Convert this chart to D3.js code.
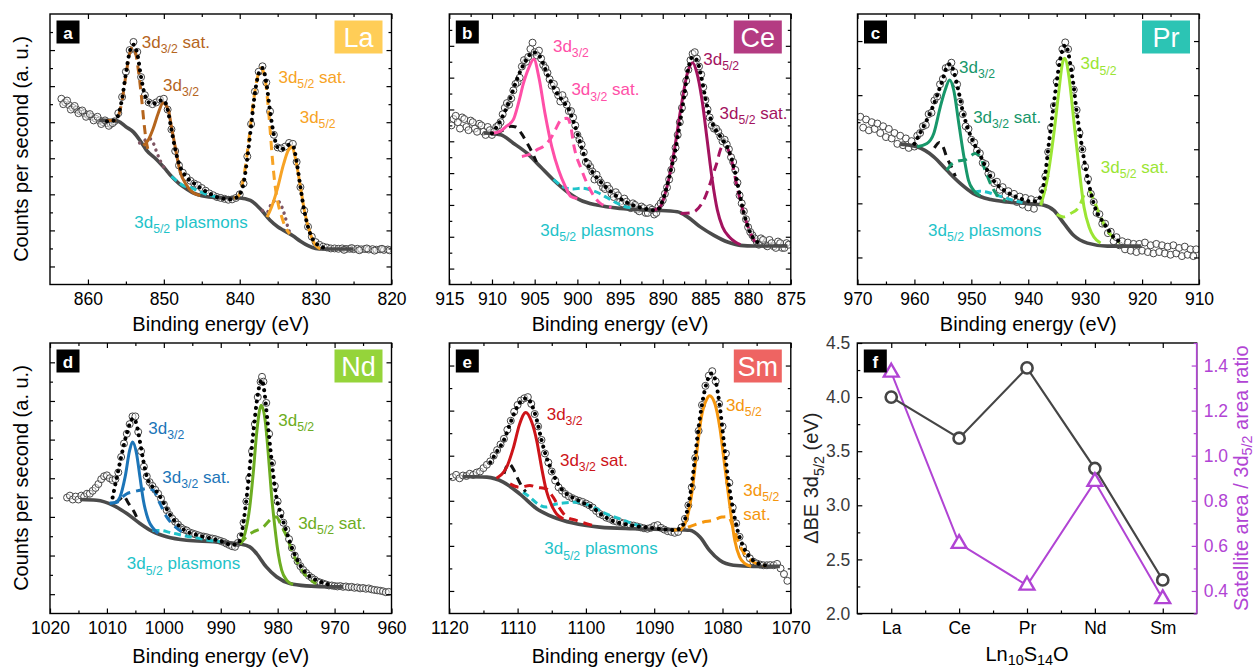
<!DOCTYPE html>
<html>
<head>
<meta charset="utf-8">
<script src="https://cdn.jsdelivr.net/npm/d3@7"></script>
<style>
  body { margin: 0; background: #fff; }
  svg { font-family: Arial, "Liberation Sans", Helvetica, sans-serif; }
</style>
</head>
<body>
<svg id="fig" width="1257" height="670"></svg>
<script>
// ---------- La (panel a) : [binding energy eV, counts a.u.] ----------
const laData = [[863.5,10.3],[863,10.1],[862.5,9.95],[862,9.8],[861.5,9.7],[861,9.6],[860.5,9.5],[860,9.4],[859.5,9.3],[859,9.2],[858.5,9.1],[858,9.0],[857.5,8.95],[857,8.9],[856.5,9.05],[856,9.5],[855.5,10.4],[855,11.8],[854.5,13.0],[854,13.45],[853.5,12.9],[853,11.5],[852.5,10.5],[852,10.1],[851.5,10.0],[851,10.1],[850.5,10.25],[850,10.3],[849.5,9.7],[849,8.6],[848.5,7.4],[848,6.6],[847.5,6.2],[847,5.95],[846.5,5.75],[846,5.6],[845.5,5.5],[845,5.35],[844.5,5.2],[844,5.05],[843.5,4.95],[843,4.85],[842.5,4.8],[842,4.75],[841.5,4.7],[841,4.72],[840.5,4.8],[840,5.0],[839.5,5.6],[839,7.1],[838.5,8.9],[838,10.7],[837.5,11.8],[837,12.1],[836.5,11.2],[836,9.6],[835.5,8.3],[835,7.6],[834.5,7.55],[834,7.65],[833.5,7.85],[833,7.8],[832.5,6.8],[832,5.4],[831.5,4.1],[831,3.2],[830.5,2.65],[830,2.35],[829.5,2.2],[829,2.1],[828.5,2.05],[828,2.0],[827.5,2.0],[827,1.98],[826.5,2.0],[826,1.97],[825.5,1.98],[825,1.96],[824.5,1.98],[824,1.95],[823.5,1.97],[823,1.94],[822.5,1.96],[822,1.93],[821.5,1.95],[821,1.92],[820.5,1.94]];
const laData2 = [[863.25,10.0],[862.75,10.2],[862.25,9.7],[861.75,9.9],[861.25,9.5],[860.75,9.65],[860.25,9.3],[859.75,9.45],[859.25,9.1],[858.75,9.3],[858.25,8.9],[857.75,9.1],[857.25,8.8],[856.75,8.95],[826.25,1.92],[825.25,2.02],[824.25,1.9],[823.25,2.0],[822.25,1.88],[821.25,1.98],[820.25,1.9]];
const laBg = [[858.5,9.1],[857,9.1],[856,9.05],[855,8.75],[854,8.45],[853,7.9],[852.3,7.45],[851,6.95],[850,6.5],[849,6.0],[848,5.6],[847,5.3],[846,5.05],[845,4.92],[843,4.82],[840,4.8],[838.6,4.67],[837.3,4.2],[836,3.56],[835,3.2],[834.2,3.0],[833,2.7],[832,2.4],[831,2.15],[830,2.0],[829,1.97],[825,1.97]];
const laEnv = [[857.5,9.05],[856.5,9.1],[856,9.4],[855.5,10.3],[855,11.7],[854.5,12.9],[854,13.3],[853.5,12.8],[853,11.5],[852.5,10.5],[852,10.1],[851.5,10.0],[851,10.1],[850.5,10.2],[850,10.2],[849.5,9.7],[849,8.6],[848.5,7.5],[848,6.7],[847,5.95],[846,5.6],[845,5.3],[844,5.05],[843,4.85],[842,4.75],[841,4.72],[840.5,4.8],[840,5.0],[839.5,5.6],[839,7.0],[838.5,8.8],[838,10.6],[837.5,11.7],[837,12.0],[836.5,11.2],[836,9.6],[835.5,8.3],[835,7.6],[834.5,7.5],[834,7.6],[833.5,7.75],[833,7.7],[832.5,6.8],[832,5.4],[831.5,4.1],[831,3.2],[830.5,2.6],[830,2.3],[829.5,2.15],[829,2.05]];
const laD32 = [[852.7,7.7],[852.07,8.0],[851.4,8.65],[850.75,9.48],[850.1,10.07],[849.4,9.67],[849.0,8.74],[848.5,7.63],[847.9,6.33],[847.0,5.5],[846.1,5.07],[845.2,4.94]];
const laD32Sat = [[857.5,9.1],[856.5,9.1],[856,9.35],[855.5,10.2],[855,11.6],[854.5,12.8],[854.1,13.2],[853.7,12.8],[853.3,11.7],[852.9,10.2],[852.6,8.9],[852.3,7.9],[852.0,7.35]];
const laD52 = [[836.4,3.74],[835.8,4.3],[835.1,5.22],[834.2,6.7],[833.6,7.44],[833.1,7.63],[832.7,7.07],[832.0,5.41],[831.4,3.93],[830.7,2.81],[830.0,2.17],[829.4,1.98]];
const laD52Sat = [[840.8,4.8],[840.3,4.85],[839.8,5.3],[839.3,6.4],[838.8,8.0],[838.3,9.8],[837.8,11.2],[837.2,12.0],[836.7,11.5],[836.3,10.1],[836.0,8.6],[835.7,7.0],[835.4,5.7],[835.0,4.6],[834.5,3.8],[834.0,3.2],[833.4,2.8]];
const laExtra32 = [[853.2,7.85],[852.5,8.0],[851.9,8.1],[851.4,7.85],[850.9,7.3],[850.4,6.8],[849.9,6.45]];
const laExtra52 = [[837,4.1],[836.4,4.0],[835.8,4.5],[835.1,4.67],[834.45,4.3],[834.0,3.74],[833.6,3.1],[833.2,2.75]];
const laPlas = [[849,6.0],[848.3,5.75],[847.5,5.5],[846.5,5.38],[845.5,5.2],[844.5,5.02],[843.5,4.9],[842.5,4.82]];
const laXTicks = [860, 850, 840, 830, 820];
const laXMinor = [855, 845, 835, 825];
const laYTicks = [1,2,3,4,5,6,7,8,9,10,11,12,13,14];

// ---------- Ce (panel b) ----------
const ceData = [[914.5,10.4],[914,10.2],[913.5,10.5],[913,9.9],[912.5,10.3],[912,9.8],[911.5,10.1],[911,9.6],[910.5,9.9],[910,9.4],[909.5,9.9],[909,10.2],[908.5,11.1],[908,11.3],[907.5,12.2],[907,12.7],[906.5,13.7],[906,14.0],[905.5,14.8],[905,14.6],[904.5,14.7],[904,13.8],[903.5,13.3],[903,12.5],[902.5,12.2],[902,11.5],[901.5,11.6],[901,10.9],[900.5,10.5],[900,9.4],[899.5,8.8],[899,7.7],[898.5,7.4],[898,6.6],[897.5,6.6],[897,6.1],[896.5,6.2],[896,5.7],[895.5,5.8],[895,5.2],[894.5,5.4],[894,4.9],[893.5,5.1],[893,4.7],[892.5,4.9],[892,4.5],[891.5,4.8],[891,4.4],[890.5,4.9],[890,5.3],[889.5,6.1],[889,7.2],[888.5,8.6],[888,10.2],[887.5,12.0],[887,13.5],[886.5,14.5],[886,14.2],[885.5,13.2],[885,11.6],[884.5,10.5],[884,9.8],[883.5,9.6],[883,9.0],[882.5,8.8],[882,8.0],[881.5,7.2],[881,5.6],[880.5,4.6],[880,3.6],[879.5,3.1],[879,2.7],[878.5,2.9],[878,2.5],[877.5,2.8],[877,2.4],[876.5,2.7],[876,2.3],[875.5,2.6]];
const ceData2 = [[914.75,10.0],[914.25,10.6],[913.75,9.8],[913.25,10.4],[912.75,9.7],[912.25,10.2],[911.75,9.6],[911.25,10.0],[910.75,9.4],[910.25,9.7],[909.75,9.6],[909.25,10.0],[908.75,10.7],[908.25,11.4],[907.75,11.7],[907.25,12.6],[906.75,13.0],[906.25,14.1],[905.75,14.3],[905.25,15.2],[904.75,14.4],[904.25,14.2],[903.75,13.6],[903.25,12.9],[902.75,12.6],[902.25,11.9],[901.75,11.9],[901.25,11.3],[900.75,10.9],[900.25,10.0],[899.75,9.1],[899.25,8.3],[898.75,7.6],[898.25,7.1],[897.75,6.9],[897.25,6.4],[896.75,6.0],[896.25,6.0],[895.75,5.5],[895.25,5.6],[894.75,5.1],[894.25,5.2],[893.75,4.8],[893.25,5.0],[892.75,4.6],[892.25,4.8],[891.75,4.5],[891.25,4.7],[890.75,4.5],[890.25,5.1],[889.75,5.7],[889.25,6.6],[888.75,7.9],[888.25,9.4],[887.75,11.1],[887.25,12.8],[886.75,14.1],[886.25,14.6],[885.75,13.7],[885.25,12.4],[884.75,11.0],[884.25,10.0],[883.75,9.8],[883.25,9.3],[882.75,9.1],[882.25,8.5],[881.75,7.7],[881.25,6.4],[880.75,5.1],[880.25,4.1],[879.75,3.3],[879.25,2.9],[878.75,2.5],[878.25,2.8],[877.75,2.4],[877.25,2.6],[876.75,2.3],[876.25,2.6],[875.75,2.3],[875.25,2.5]];
const ceBg = [[911,9.52],[909,9.41],[907.5,8.88],[905.9,8.25],[904.35,7.41],[902.8,6.57],[901.2,5.83],[899.65,5.3],[897.7,4.99],[895,4.78],[891,4.67],[888.3,4.57],[887.1,4.25],[885.6,3.62],[884,3.09],[882.4,2.67],[880.9,2.46],[879.3,2.42],[875.4,2.42]];
const ceEnv = [[910,9.5],[909,10.3],[908,11.5],[907,13.0],[906,14.1],[905.2,14.6],[904.5,14.4],[903.5,13.2],[902.5,12.1],[901.5,11.4],[901,11.0],[900.5,10.3],[900,9.5],[899.5,8.6],[899,7.8],[898,6.9],[897,6.3],[896,5.8],[895,5.4],[894,5.1],[893,4.9],[892,4.75],[891,4.67],[890.5,4.75],[890,5.3],[889.5,6.2],[889,7.3],[888.5,8.5],[888,10.1],[887.5,11.8],[887,13.6],[886.5,14.3],[886,14.1],[885.5,13.1],[885,11.7],[884.5,10.6],[884,9.9],[883.5,9.5],[883,9.1],[882.5,8.7],[882,8.0],[881.5,7.0],[881,5.7],[880.5,4.5],[880,3.6],[879.5,3.0],[879,2.7],[878.5,2.55]];
const ceD32 = [[910,9.5],[909.05,9.62],[908.3,9.95],[907.5,10.36],[906.9,11.4],[906.3,12.67],[905.7,13.6],[905.1,14.15],[904.5,13.0],[903.8,10.78],[903.0,8.67],[902.2,7.2],[901.4,6.15],[900.8,5.55],[900.0,5.4]];
const ceD32Sat = [[906.5,8.05],[905.5,8.2],[904.75,8.46],[903.8,8.75],[903.1,9.2],[902.6,9.7],[901.8,10.4],[901.2,10.45],[900.8,10.0],[900.4,8.7],[899.5,7.2],[898.5,5.95],[897.3,5.1],[896,4.85]];
const ceD52 = [[891.05,4.67],[890.3,4.88],[889.5,6.15],[888.7,8.25],[887.9,11.0],[887.1,13.3],[886.5,13.94],[886.0,13.3],[885.4,11.6],[884.8,9.1],[884.2,6.57],[883.6,4.67],[883.0,3.62],[882.2,2.99],[881.5,2.67],[880.9,2.5]];
const ceD52Sat = [[887.9,4.46],[886.7,4.5],[885.2,5.3],[883.8,7.41],[883.0,8.67],[882.5,8.6],[881.85,7.62],[881.3,6.15],[880.5,4.46],[879.7,3.2],[879.3,2.78],[878.7,2.5]];
const ceExtra = [[909.5,9.5],[908.5,9.75],[907.8,9.95],[907.2,9.9],[906.5,9.45],[905.9,8.9],[905.3,8.3],[904.8,7.7]];
const cePlas = [[902.8,6.6],[901.5,6.1],[900.5,6.0],[899.5,6.05],[898.5,5.95],[897.5,5.75],[896.5,5.45],[895.5,5.15],[894.5,4.9],[893.5,4.8]];
const ceXTicks = [915, 910, 905, 900, 895, 890, 885, 880, 875];
const ceXMinor = [912.5, 907.5, 902.5, 897.5, 892.5, 887.5, 882.5, 877.5];
const ceYTicks = [1,2,3,4,5,6,7,8,9,10,11,12,13,14,15,16];

// ---------- Pr (panel c) ----------
const prData = [[969.5,6.2],[969,5.8],[968.5,6.1],[968,5.7],[967.5,6.0],[967,5.75],[966.5,5.95],[966,5.6],[965.5,5.85],[965,5.45],[964.5,5.75],[964,5.4],[963.5,5.6],[963,5.2],[962.5,5.5],[962,5.15],[961.5,5.4],[961,5.05],[960.5,5.3],[960,5.1],[959.5,5.5],[959,5.6],[958.5,5.85],[958,5.9],[957.5,6.3],[957,6.35],[956.5,6.8],[956,6.95],[955.5,7.4],[955,7.6],[954.5,8.0],[954,8.05],[953.5,8.2],[953,7.85],[952.5,7.4],[952,6.75],[951.5,6.3],[951,5.85],[950.5,5.75],[950,5.35],[949.5,5.25],[949,4.95],[948.5,4.85],[948,4.5],[947.5,4.45],[947,4.1],[946.5,4.05],[946,3.75],[945.5,3.8],[945,3.5],[944.5,3.6],[944,3.3],[943.5,3.45],[943,3.2],[942.5,3.35],[942,3.05],[941.5,3.25],[941,2.95],[940.5,3.2],[940,2.85],[939.5,3.15],[939,2.8],[938.5,3.1],[938,3.05],[937.5,3.5],[937,4.0],[936.5,4.9],[936,5.8],[935.5,6.6],[935,7.5],[934.5,8.2],[934,8.7],[933.5,8.95],[933,8.7],[932.5,8.0],[932,7.2],[931.5,6.45],[931,5.6],[930.5,5.0],[930,4.35],[929.5,3.9],[929,3.35],[928.5,3.05],[928,2.65],[927.5,2.6],[927,2.25],[926.5,2.25],[926,1.9],[925.5,1.95],[925,1.6],[924.5,1.75],[924,1.45],[923.5,1.6],[923,1.3],[922.5,1.55],[922,1.25],[921.5,1.5],[921,1.2],[920.5,1.5],[920,1.25],[919.5,1.55],[919,1.2],[918.5,1.45],[918,1.15],[917.5,1.5],[917,1.2],[916.5,1.45],[916,1.15],[915.5,1.4],[915,1.1],[914.5,1.45],[914,1.15],[913.5,1.35],[913,1.05],[912.5,1.4],[912,1.1],[911.5,1.3],[911,1.05],[910.5,1.3]];
const prBg = [[962.5,5.19],[959.55,5.09],[956.6,4.72],[954.3,4.22],[951.9,3.73],[949.6,3.36],[946.6,3.14],[943.7,3.05],[940.2,2.99],[937.25,2.93],[935.5,2.74],[933.7,2.25],[932,1.81],[929.6,1.53],[926.1,1.42],[920.2,1.42]];
const prEnv = [[960,5.2],[959,5.6],[958,6.0],[957,6.45],[956,7.0],[955,7.6],[954.3,8.05],[953.7,8.15],[953,7.8],[952.3,7.2],[951.5,6.4],[950.5,5.7],[949.5,5.2],[948.5,4.8],[947.5,4.35],[946.5,3.95],[945.5,3.7],[944,3.45],[942.5,3.28],[941,3.15],[939.5,3.07],[938.5,3.08],[937.5,3.5],[937,4.1],[936.5,5.0],[936,5.85],[935.5,6.7],[935,7.5],[934.5,8.2],[934,8.65],[933.5,8.85],[933,8.6],[932.5,8.0],[932,7.3],[931.5,6.4],[931,5.7],[930.5,5.0],[930,4.4],[929.5,3.85],[929,3.4],[928.5,3.0],[928,2.7],[927,2.35],[926,2.05],[925,1.75],[924,1.6]];
const prD32 = [[959.55,5.09],[957.8,5.21],[956.6,5.58],[955.45,6.57],[954.6,7.19],[953.8,7.56],[953.1,7.19],[952.2,5.95],[951.3,4.72],[950.5,3.85],[949.6,3.48],[948.4,3.28]];
const prD32Sat = [[954.3,4.22],[953.7,4.4],[952.5,4.55],[951,4.62],[949.3,4.84],[948.5,4.75],[947.8,4.35],[946.35,3.6],[945.2,3.23],[944,3.1]];
const prD52 = [[937.8,2.93],[936.7,3.85],[935.5,5.58],[934.6,7.19],[934.0,8.17],[933.6,8.36],[932.85,7.68],[932.0,6.07],[931.1,4.35],[930.2,2.86],[929.3,2.12],[928.45,1.75],[927.3,1.53]];
const prD52Sat = [[935,2.6],[933.8,2.5],[932.6,2.62],[931.1,2.86],[930.2,3.3],[929.3,3.45],[928.45,3.1],[927.3,2.5],[926.1,2.0],[924.9,1.7],[924,1.55]];
const prExtra = [[956.5,5.05],[955.6,5.25],[955.0,5.1],[954.3,4.7],[953.4,4.3],[952.8,4.0]];
const prPlas = [[949.5,3.4],[948.5,3.45],[947,3.4],[945.5,3.3],[944,3.2],[942.5,3.1],[941,3.03]];
const prXTicks = [970, 960, 950, 940, 930, 920, 910];
const prXMinor = [965, 955, 945, 935, 925, 915];
const prYTicks = [1,2,3,4,5,6,7,8,9];

// ---------- Nd (panel d) ----------
const ndData = [[1017,6.0],[1016.5,6.1],[1016,5.9],[1015.5,6.05],[1015,5.9],[1014.5,6.1],[1014,6.05],[1013.5,6.2],[1013,6.2],[1012.5,6.35],[1012,6.5],[1011.5,6.7],[1011,6.95],[1010.5,7.1],[1010,7.15],[1009.5,7.0],[1009,6.9],[1008.5,6.95],[1008,7.3],[1007.5,8.1],[1007,8.8],[1006.5,9.3],[1006,9.8],[1005.5,10.2],[1005,10.2],[1004.5,9.4],[1004,8.4],[1003.5,7.6],[1003,7.1],[1002.5,6.8],[1002,6.6],[1001.5,6.4],[1001,6.2],[1000.5,5.95],[1000,5.65],[999.5,5.35],[999,5.1],[998.5,4.9],[998,4.75],[997.5,4.6],[997,4.45],[996.5,4.35],[996,4.3],[995.5,4.2],[995,4.15],[994.5,4.1],[994,4.05],[993.5,4.0],[993,3.98],[992.5,3.95],[992,3.9],[991.5,3.88],[991,3.85],[990.5,3.8],[990,3.75],[989.5,3.7],[989,3.62],[988.5,3.55],[988,3.48],[987.5,3.45],[987,3.65],[986.5,4.0],[986,4.7],[985.5,5.8],[985,7.0],[984.5,8.4],[984,9.8],[983.5,11.2],[983,12.0],[982.75,12.25],[982.5,12.0],[982,10.9],[981.5,9.3],[981,7.8],[980.5,6.6],[980,5.8],[979.5,5.2],[979,4.7],[978.5,4.35],[978,3.85],[977.5,3.4],[977,3.0],[976.5,2.7],[976,2.45],[975.5,2.25],[975,2.1],[974.5,1.95],[974,1.85],[973.5,1.75],[973,1.65],[972.5,1.6],[972,1.55],[971.5,1.5],[971,1.45],[970.5,1.45],[970,1.42],[969.5,1.4],[969,1.42],[968.5,1.38],[968,1.4],[967.5,1.36],[967,1.38],[966.5,1.33],[966,1.35],[965.5,1.3],[965,1.32],[964.5,1.28],[964,1.3],[963.5,1.25],[963,1.22],[962.5,1.2],[962,1.18],[961.5,1.15],[961,1.1],[960.5,1.12]];
const ndBg = [[1014.7,5.9],[1011.8,5.86],[1008.9,5.6],[1006.5,5.17],[1004.2,4.66],[1001.85,4.22],[999.5,3.97],[996,3.79],[991.3,3.71],[986.6,3.59],[984.9,3.45],[983.7,3.1],[982,2.41],[980.2,1.9],[977.85,1.55],[974.9,1.43],[970.2,1.38],[968.5,1.38]];
const ndEnv = [[1009,6.0],[1008.3,7.0],[1007.5,8.1],[1006.8,9.0],[1006,9.8],[1005.4,10.1],[1004.8,9.8],[1004.2,8.9],[1003.6,7.9],[1003,7.1],[1002.4,6.7],[1001.8,6.5],[1001,6.2],[1000,5.7],[999,5.15],[998,4.75],[997,4.45],[996,4.25],[994,4.05],[992,3.9],[990,3.75],[988,3.55],[987,3.6],[986.3,4.2],[985.7,5.4],[985.2,6.7],[984.7,8.2],[984.2,9.6],[983.7,10.9],[983.2,11.8],[982.8,12.1],[982.3,11.4],[981.8,10.0],[981.2,8.3],[980.7,7.0],[980.2,6.0],[979.6,5.3],[979,4.75],[978.3,4.1],[977.5,3.4],[976.5,2.75],[975.5,2.25],[974.5,1.95],[973,1.7],[971,1.5]];
const ndD32 = [[1009.5,5.7],[1008.5,5.75],[1007.7,6.03],[1006.8,7.07],[1006.0,8.45],[1005.5,8.88],[1004.8,8.28],[1004.2,7.07],[1003.6,5.86],[1002.7,4.83],[1001.85,4.4],[1001.0,4.15]];
const ndD32Sat = [[1009.5,5.7],[1008.3,5.75],[1007.4,6.0],[1006.5,6.2],[1005.4,6.3],[1004.2,6.38],[1003,6.47],[1001.85,6.38],[1000.7,5.7],[999.5,5.0],[998.3,4.57],[997.2,4.3],[996,4.0]];
const ndD52 = [[986.6,3.62],[985.75,4.14],[984.9,5.52],[984.3,7.24],[983.7,9.31],[983.2,10.5],[982.9,10.78],[982.2,10.0],[981.65,8.28],[981.1,6.21],[980.5,4.48],[979.9,3.1],[979.3,2.24],[978.4,1.72],[977.3,1.5]];
const ndD52Sat = [[986.6,3.59],[985.5,3.97],[984.3,4.22],[982.5,4.48],[981.4,4.83],[980.8,5.0],[980.2,5.0],[979.6,4.7],[978.4,3.97],[977.3,3.1],[976.1,2.41],[974.9,1.9],[973.2,1.55]];
const ndExtra = [[1008.5,5.75],[1007.6,5.95],[1007.1,6.1],[1006.4,5.8],[1005.9,5.55],[1005.3,5.3],[1004.8,5.0]];
const ndPlas = [[1002,4.3],[1000.5,4.3],[999,4.2],[997.5,4.1],[996,4.0],[994,3.9],[992,3.78],[990,3.72]];
const ndXTicks = [1020, 1010, 1000, 990, 980, 970, 960];
const ndXMinor = [1015, 1005, 995, 985, 975, 965];
const ndYTicks = [1,2,3,4,5,6,7,8,9,10,11,12,13];

// ---------- Sm (panel e) ----------
const smData = [[1119.5,6.05],[1119,6.15],[1118.5,6.0],[1118,6.12],[1117.5,6.1],[1117,6.2],[1116.5,6.15],[1116,6.25],[1115.5,6.3],[1115,6.45],[1114.5,6.6],[1114,6.75],[1113.5,7.0],[1113,7.25],[1112.5,7.5],[1112,7.75],[1111.5,8.15],[1111,8.55],[1110.5,8.95],[1110,9.25],[1109.5,9.45],[1109,9.55],[1108.5,9.6],[1108,9.3],[1107.5,8.85],[1107,8.3],[1106.5,7.7],[1106,7.1],[1105.5,6.7],[1105,6.3],[1104.5,5.9],[1104,5.6],[1103.5,5.45],[1103,5.3],[1102.5,5.2],[1102,5.12],[1101.5,5.05],[1101,5.0],[1100.5,4.95],[1100,4.88],[1099.5,4.8],[1099,4.7],[1098.5,4.55],[1098,4.42],[1097.5,4.35],[1097,4.25],[1096.5,4.2],[1096,4.12],[1095.5,4.08],[1095,4.05],[1094.5,4.0],[1094,3.95],[1093.5,3.92],[1093,3.9],[1092.5,3.86],[1092,3.82],[1091.5,3.78],[1091,3.76],[1090.5,3.8],[1090,3.88],[1089.5,3.92],[1089,3.8],[1088.5,3.72],[1088,3.65],[1087.5,3.62],[1087,3.58],[1086.5,3.62],[1086,3.82],[1085.5,4.2],[1085,4.8],[1084.5,5.6],[1084,6.9],[1083.5,8.1],[1083,9.25],[1082.5,10.1],[1082,10.55],[1081.5,10.75],[1081,10.3],[1080.5,9.3],[1080,8.3],[1079.5,7.1],[1079,5.8],[1078.5,4.7],[1078,4.0],[1077.5,3.4],[1077,2.95],[1076.5,2.65],[1076,2.45],[1075.5,2.3],[1075,2.22],[1074.5,2.17],[1074,2.14],[1073.5,2.14],[1073,2.15],[1072.5,2.14],[1072,2.2],[1071.5,2.0],[1071,1.75],[1070.5,1.45]];
const smBg = [[1118,6.08],[1114.5,6.05],[1112.1,5.83],[1109.7,5.31],[1107.2,4.65],[1104.8,4.28],[1101.9,4.01],[1098,3.83],[1093.1,3.76],[1087.2,3.72],[1084.8,3.69],[1083.3,3.39],[1081.9,2.8],[1080.4,2.36],[1078.4,2.14],[1075.5,2.09],[1071.6,2.09]];
const smEnv = [[1114,6.7],[1113,7.2],[1112,7.7],[1111,8.5],[1110,9.2],[1109.2,9.5],[1108.6,9.55],[1108,9.3],[1107.2,8.6],[1106.5,7.7],[1105.8,6.95],[1105,6.35],[1104,5.7],[1103,5.35],[1102,5.15],[1101,5.0],[1100,4.85],[1099,4.7],[1098,4.45],[1097,4.25],[1096,4.1],[1094,3.95],[1092,3.85],[1090,3.78],[1088,3.72],[1087,3.7],[1086,3.82],[1085.3,4.4],[1084.6,5.5],[1084,7.0],[1083.3,8.7],[1082.6,9.9],[1082,10.5],[1081.6,10.65],[1081,10.3],[1080.4,9.2],[1079.8,7.6],[1079.2,6.0],[1078.5,4.7],[1077.8,3.7],[1077,3.0],[1076,2.5],[1075,2.25],[1074,2.15],[1073,2.12]];
const smD32 = [[1113.1,6.0],[1111.6,6.49],[1110.6,7.37],[1109.7,8.41],[1108.8,8.92],[1108.0,8.55],[1107.2,7.67],[1106.5,6.49],[1105.8,5.46],[1105.0,4.79],[1104.3,4.42],[1103.3,4.2]];
const smD32Sat = [[1111.1,5.75],[1109.7,5.6],[1108.2,5.68],[1107.2,5.6],[1105.8,5.53],[1104.8,5.16],[1103.8,4.65],[1102.8,4.28],[1101.4,4.13],[1099.9,3.98],[1098.5,3.88]];
const smD52 = [[1086.2,3.69],[1085.3,4.13],[1084.5,5.31],[1083.8,7.08],[1083.1,8.7],[1082.3,9.51],[1081.9,9.66],[1081.1,9.29],[1080.4,8.26],[1079.65,6.49],[1078.9,4.72],[1078.2,3.24],[1077.5,2.51],[1076.7,2.21],[1075.8,2.09]];
const smD52Sat = [[1087.2,3.69],[1085.8,3.76],[1084.3,3.91],[1082.8,4.06],[1081.4,4.13],[1080.1,4.28],[1079.2,4.3],[1078.2,3.6],[1077.2,2.85],[1076.2,2.45],[1075,2.21],[1073.6,2.12]];
const smExtra = [[1112,6.2],[1111.3,6.65],[1110.6,6.4],[1110,6.0],[1109.5,5.7],[1108.8,5.4]];
const smPlas = [[1109.2,5.38],[1108.2,5.16],[1107,4.85],[1105.8,4.72],[1104.5,4.85],[1103.3,4.9],[1101.4,4.94],[1098.9,4.72],[1097,4.42],[1095,4.2],[1093.1,3.98],[1091.6,3.83]];
const smXTicks = [1120, 1110, 1100, 1090, 1080, 1070];
const smXMinor = [1115, 1105, 1095, 1085, 1075];
const smYTicks = [1,2,3,4,5,6,7,8,9,10,11];

// ---------- panel f ----------
const elements = ['La', 'Ce', 'Pr', 'Nd', 'Sm'];
const deltaBE = [4.0, 3.62, 4.27, 3.34, 2.31];
const satRatio = [1.37, 0.61, 0.425, 0.885, 0.365];
const beTicks = [2.0, 2.5, 3.0, 3.5, 4.0, 4.5];
const beMinor = [2.25, 2.75, 3.25, 3.75, 4.25];
const ratioTicks = [0.4, 0.6, 0.8, 1.0, 1.2, 1.4];
const ratioMinor = [0.3, 0.5, 0.7, 0.9, 1.1, 1.3, 1.5];

const CYAN = '#1FC3C9';
const svg = d3.select('#fig');

// text with _{sub} subscripts
function rich(sel, str, fs, shift) {
  const sh = shift === undefined ? 0.3 : shift;
  const parts = str.split(/_\{([^}]*)\}/);
  let down = false;
  parts.forEach((p, i) => {
    if (p === '') return;
    const t = sel.append('tspan').text(p);
    if (i % 2 === 1) { t.attr('font-size', fs * 0.72).attr('dy', fs * sh); down = true; }
    else if (down) { t.attr('dy', -fs * sh); down = false; }
  });
}

function axisPart(g, fn, scale, values, size, pad, fmt, tr) {
  const ax = fn(scale).tickValues(values).tickSize(-size).tickSizeOuter(0).tickPadding(pad)
    .tickFormat(fmt || (() => ''));
  const s = g.append('g').attr('transform', tr).call(ax);
  s.select('.domain').remove();
  s.attr('font-family', null).attr('font-size', 17.5);
  s.selectAll('line').attr('stroke', '#000').attr('stroke-width', 1.2);
  return s;
}

function panelTag(g, x0, y0, letter) {
  g.append('rect').attr('x', x0 + 6.5).attr('y', y0 + 6.5).attr('width', 23).attr('height', 23).attr('fill', '#000');
  g.append('text').attr('x', x0 + 18).attr('y', y0 + 24.5).attr('text-anchor', 'middle')
    .attr('font-size', 17).attr('font-weight', 'bold').attr('fill', '#fff').text(letter);
}

const panels = [
  { id: 'a', el: 'La', box: '#FFCD57', x0: 50, y0: 14, xd: [865, 820], yMax: 15,
    xt: laXTicks, xm: laXMinor, yt: laYTicks, data: laData.concat(laData2), bg: laBg, env: laEnv,
    c32: '#B5651D', c52: '#F7A325',
    comps: [[laPlas, 'plas'], [laExtra32, 'dot'], [laExtra52, 'dot'], [laD32Sat, 'dash', 'c32'], [laD32, 'solid', 'c32'],
            [laD52Sat, 'dash', 'c52'], [laD52, 'solid', 'c52']],
    labels: [['3d_{3/2} sat.', 852.9, 13.1, 'c32'], ['3d_{3/2}', 850.1, 10.72, 'c32'],
             ['3d_{5/2} sat.', 834.9, 11.17, 'c52'], ['3d_{5/2}', 832.1, 8.94, 'c52'],
             ['3d_{5/2} plasmons', 853.9, 3.13, 'cyan']] },
  { id: 'b', el: 'Ce', box: '#B43B82', x0: 449.3, y0: 14, xd: [915, 875], yMax: 17,
    xt: ceXTicks, xm: ceXMinor, yt: ceYTicks, data: ceData.concat(ceData2), bg: ceBg, env: ceEnv,
    c32: '#FF4FA7', c52: '#A3135F',
    comps: [[cePlas, 'plas'], [ceExtra, 'blk'], [ceD32Sat, 'dash', 'c32'], [ceD32, 'solid', 'c32'],
            [ceD52Sat, 'dash', 'c52'], [ceD52, 'solid', 'c52']],
    labels: [['3d_{3/2}', 902.86, 14.61, 'c32'], ['3d_{3/2} sat.', 900.7, 11.88, 'c32'],
             ['3d_{5/2}', 885.26, 13.81, 'c52'], ['3d_{5/2} sat.', 883.35, 10.4, 'c52'],
             ['3d_{5/2} plasmons', 904.35, 3.03, 'cyan']] },
  { id: 'c', el: 'Pr', box: '#2CC4B4', x0: 857.5, y0: 14, xd: [970, 910], yMax: 10,
    xt: prXTicks, xm: prXMinor, yt: prYTicks, data: prData, bg: prBg, env: prEnv,
    c32: '#17976A', c52: '#9BE534',
    comps: [[prPlas, 'plas'], [prExtra, 'blk'], [prD32Sat, 'dash', 'c32'], [prD32, 'solid', 'c32'],
            [prD52Sat, 'dash', 'c52'], [prD52, 'solid', 'c52']],
    labels: [['3d_{3/2}', 952.15, 7.83, 'c32'], ['3d_{3/2} sat.', 949.68, 5.97, 'c32'],
             ['3d_{5/2}', 930.8, 7.95, 'c52'], ['3d_{5/2} sat.', 927.27, 4.12, 'c52'],
             ['3d_{5/2} plasmons', 957.6, 1.81, 'cyan']] },
  { id: 'd', el: 'Nd', box: '#95D43A', x0: 50, y0: 343, xd: [1020, 960], yMax: 14,
    xt: ndXTicks, xm: ndXMinor, yt: ndYTicks, data: ndData, bg: ndBg, env: ndEnv,
    c32: '#1C75B8', c52: '#6DAD22',
    comps: [[ndPlas, 'plas'], [ndExtra, 'blk'], [ndD32Sat, 'dash', 'c32'], [ndD32, 'solid', 'c32'],
            [ndD52Sat, 'dash', 'c52'], [ndD52, 'solid', 'c52']],
    labels: [['3d_{3/2}', 1002.73, 9.27, 'c32'], ['3d_{3/2} sat.', 1000.27, 6.77, 'c32'],
             ['3d_{5/2}', 979.9, 9.7, 'c52'], ['3d_{5/2} sat.', 976.4, 4.38, 'c52'],
             ['3d_{5/2} plasmons', 1006.5, 2.28, 'cyan']] },
  { id: 'e', el: 'Sm', box: '#EE6462', x0: 449.3, y0: 343, xd: [1120, 1070], yMax: 12,
    xt: smXTicks, xm: smXMinor, yt: smYTicks, data: smData, bg: smBg, env: smEnv,
    c32: '#CD1419', c52: '#F5960D',
    comps: [[smPlas, 'plas'], [smExtra, 'blk'], [smD32Sat, 'dash', 'c32'], [smD32, 'solid', 'c32'],
            [smD52Sat, 'dash', 'c52'], [smD52, 'solid', 'c52']],
    labels: [['3d_{3/2}', 1105.74, 8.6, 'c32'], ['3d_{3/2} sat.', 1103.8, 6.53, 'c32'],
             ['3d_{5/2}', 1079.5, 8.97, 'c52'], ['3d_{5/2}', 1076.95, 5.2, 'c52'], ['sat.', 1076.95, 4.17, 'c52'],
             ['3d_{5/2} plasmons', 1106.1, 2.62, 'cyan']] }
];

const W = 341.5, H = 270.5;

panels.forEach(p => {
  const g = svg.append('g');
  const x = d3.scaleLinear().domain(p.xd).range([p.x0, p.x0 + W]);
  const y = d3.scaleLinear().domain([0, p.yMax]).range([p.y0 + H, p.y0]);

  svg.append('clipPath').attr('id', 'clip-' + p.id)
    .append('rect').attr('x', p.x0).attr('y', p.y0).attr('width', W).attr('height', H);
  const plot = g.append('g').attr('clip-path', `url(#clip-${p.id})`);

  plot.selectAll('circle').data(p.data).join('circle')
    .attr('cx', d => x(d[0])).attr('cy', d => y(d[1])).attr('r', 3.5)
    .attr('fill', '#fff').attr('fill-opacity', 0.5)
    .attr('stroke', '#474747').attr('stroke-width', 1);

  const line = d3.line().x(d => x(d[0])).y(d => y(d[1])).curve(d3.curveMonotoneX);
  const draw = (pts, color, width, dash, cap) => plot.append('path')
    .datum(pts.slice().sort((a, b) => b[0] - a[0]))
    .attr('d', line).attr('fill', 'none').attr('stroke', color).attr('stroke-width', width)
    .attr('stroke-dasharray', dash || null).attr('stroke-linecap', cap || 'butt')
    .attr('stroke-linejoin', 'round');

  draw(p.bg, '#4b4b4b', 3.6);
  p.comps.forEach(([pts, style, key]) => {
    if (style === 'plas') draw(pts, CYAN, 3, '7 4');
    else if (style === 'dot') draw(pts, '#7E5563', 3.4, '0.1 6', 'round');
    else if (style === 'blk') draw(pts, '#111', 3, '8 6');
    else if (style === 'dash') draw(pts, p[key], 3, '9 6');
    else draw(pts, p[key], 3);
  });
  draw(p.env, '#000', 4, '0.1 6.6', 'round');

  // frame + inward ticks
  g.append('rect').attr('x', p.x0).attr('y', p.y0).attr('width', W).attr('height', H)
    .attr('fill', 'none').attr('stroke', '#000').attr('stroke-width', 1.4);
  const bottomPad = p.y0 > 100 ? 8.2 : 7.6;
  axisPart(g, d3.axisBottom, x, p.xt, 5, bottomPad, d => d, `translate(0,${p.y0 + H})`);
  axisPart(g, d3.axisBottom, x, p.xm, 3, 3, null, `translate(0,${p.y0 + H})`);
  axisPart(g, d3.axisTop, x, p.xt, 5, 3, null, `translate(0,${p.y0})`);
  axisPart(g, d3.axisTop, x, p.xm, 3, 3, null, `translate(0,${p.y0})`);
  const yMaj = p.yt.filter(v => v % 2 === 1), yMin = p.yt.filter(v => v % 2 === 0);
  axisPart(g, d3.axisLeft, y, yMaj, 5, 3, null, `translate(${p.x0},0)`);
  axisPart(g, d3.axisLeft, y, yMin, 3, 3, null, `translate(${p.x0},0)`);
  axisPart(g, d3.axisRight, y, yMaj, 5, 3, null, `translate(${p.x0 + W},0)`);
  axisPart(g, d3.axisRight, y, yMin, 3, 3, null, `translate(${p.x0 + W},0)`);

  // peak labels
  p.labels.forEach(([txt, be, v, key]) => {
    const t = g.append('text').attr('x', x(be)).attr('y', y(v)).attr('font-size', 17)
      .attr('fill', key === 'cyan' ? CYAN : p[key]);
    rich(t, txt, 17);
  });

  panelTag(g, p.x0, p.y0, p.id);
  g.append('rect').attr('x', p.x0 + W - 57).attr('y', p.y0 + 6.5).attr('width', 48).attr('height', 33)
    .attr('fill', p.box);
  g.append('text').attr('x', p.x0 + W - 33).attr('y', p.y0 + 32.5).attr('text-anchor', 'middle')
    .attr('font-size', 27).attr('fill', '#fff').text(p.el);

  g.append('text').attr('x', p.x0 + W / 2).attr('y', p.y0 > 100 ? 663 : 331)
    .attr('text-anchor', 'middle').attr('font-size', 20).text('Binding energy (eV)');
});

// y titles of the spectra
[149, 478].forEach(cy => {
  svg.append('text').attr('transform', `translate(28,${cy}) rotate(-90)`)
    .attr('text-anchor', 'middle').attr('font-size', 20).text('Counts per second (a. u.)');
});

// ---------- panel f ----------
{
  const x0 = 857.3, y0 = 343, w = 339.4, h = 270.5;
  const PURPLE = '#B144D4', GREY = '#454545';
  const g = svg.append('g');
  const x = d3.scalePoint().domain(elements).range([x0, x0 + w]).padding(0.5);
  const yL = d3.scaleLinear().domain([2.0, 4.5]).range([y0 + h, y0]);
  const yR = d3.scaleLinear().domain([0.3, 1.5]).range([y0 + h, y0]);

  const lineL = d3.line().x((d, i) => x(elements[i])).y(d => yL(d));
  const lineR = d3.line().x((d, i) => x(elements[i])).y(d => yR(d));
  g.append('path').datum(satRatio).attr('d', lineR).attr('fill', 'none').attr('stroke', PURPLE).attr('stroke-width', 2);
  g.append('path').datum(deltaBE).attr('d', lineL).attr('fill', 'none').attr('stroke', GREY).attr('stroke-width', 2.2);
  g.selectAll('.be').data(deltaBE).join('circle').attr('class', 'be')
    .attr('cx', (d, i) => x(elements[i])).attr('cy', d => yL(d)).attr('r', 5.6)
    .attr('fill', '#fff').attr('stroke', GREY).attr('stroke-width', 2.6);
  const tri = d3.symbol(d3.symbolTriangle, 95);
  g.selectAll('.sat').data(satRatio).join('path').attr('class', 'sat')
    .attr('d', tri).attr('transform', (d, i) => `translate(${x(elements[i])},${yR(d)})`)
    .attr('fill', '#fff').attr('stroke', PURPLE).attr('stroke-width', 2.4).attr('stroke-linejoin', 'miter');

  g.append('rect').attr('x', x0).attr('y', y0).attr('width', w).attr('height', h)
    .attr('fill', 'none').attr('stroke', '#000').attr('stroke-width', 1.4);
  g.append('line').attr('x1', x0 + w).attr('x2', x0 + w).attr('y1', y0).attr('y2', y0 + h)
    .attr('stroke', PURPLE).attr('stroke-width', 1.6);

  const bounds = elements.slice(1).map((e, i) => (x(elements[i]) + x(e)) / 2);
  const xb = d3.scaleLinear().domain([x0, x0 + w]).range([x0, x0 + w]);
  axisPart(g, d3.axisBottom, x, elements, 5, 8.2, d => d, `translate(0,${y0 + h})`);
  axisPart(g, d3.axisBottom, xb, bounds, 3, 3, null, `translate(0,${y0 + h})`);
  axisPart(g, d3.axisTop, x, elements, 5, 3, null, `translate(0,${y0})`);
  axisPart(g, d3.axisTop, xb, bounds, 3, 3, null, `translate(0,${y0})`);

  const la = axisPart(g, d3.axisLeft, yL, beTicks, 5, 7, d3.format('.1f'), `translate(${x0},0)`);
  la.selectAll('text').attr('fill', '#3a3a3a');
  axisPart(g, d3.axisLeft, yL, beMinor, 3, 3, null, `translate(${x0},0)`);
  const ra = axisPart(g, d3.axisRight, yR, ratioTicks, 5, 7, d3.format('.1f'), `translate(${x0 + w},0)`);
  ra.selectAll('text').attr('fill', PURPLE);
  ra.selectAll('line').attr('stroke', PURPLE);
  const rm = axisPart(g, d3.axisRight, yR, ratioMinor, 3, 3, null, `translate(${x0 + w},0)`);
  rm.selectAll('line').attr('stroke', PURPLE);

  panelTag(g, x0, y0, 'f');

  const tl = g.append('text').attr('transform', `translate(818,${y0 + h / 2}) rotate(-90)`)
    .attr('text-anchor', 'middle').attr('font-size', 20).attr('fill', '#222');
  rich(tl, 'ΔBE 3d_{5/2} (eV)', 20);
  const tr = g.append('text').attr('transform', `translate(1248,${y0 + h / 2}) rotate(-90)`)
    .attr('text-anchor', 'middle').attr('font-size', 20).attr('fill', PURPLE);
  rich(tr, 'Satellite area / 3d_{5/2} area ratio', 20, 0.2);
  const tb = g.append('text').attr('x', x0 + w / 2).attr('y', 661)
    .attr('text-anchor', 'middle').attr('font-size', 20);
  rich(tb, 'Ln_{10}S_{14}O', 20, 0.2);
}
</script>
</body>
</html>
